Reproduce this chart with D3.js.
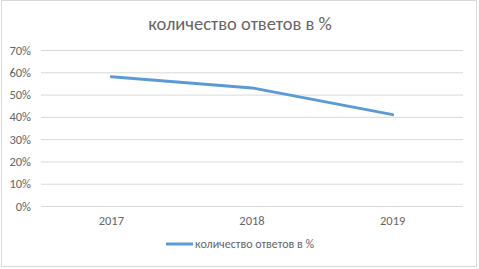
<!DOCTYPE html>
<html>
<head>
<meta charset="utf-8">
<script src="https://cdn.jsdelivr.net/npm/d3@7"></script>
<style>
  html, body { margin: 0; padding: 0; background: #fff; }
  text { font-family: Calibri, Carlito, "Liberation Sans", "Open Sans", sans-serif; }
</style>
</head>
<body>
<svg id="chart" width="479" height="269"></svg>
<script>
const years = ["2017", "2018", "2019"];
const answers = [58, 53, 41];
const yTicks = [0, 10, 20, 30, 40, 50, 60, 70];
const seriesName = "количество ответов в %";
const title = "количество ответов в %";

const width = 479;
const height = 269;
const margin = { top: 50, right: 16, bottom: 63, left: 41 };
const chartWidth = width - margin.left - margin.right;
const chartHeight = height - margin.top - margin.bottom;
const textColor = "#656565";
const lineColor = "#5b9bd5";

const svg = d3.select("#chart");

svg.append("rect")
  .attr("x", 1.5)
  .attr("y", 0.5)
  .attr("width", width - 4)
  .attr("height", height - 3)
  .attr("fill", "#fff")
  .attr("stroke", "#d9d9d9");

svg.append("text")
  .attr("x", 240)
  .attr("y", 30)
  .attr("text-anchor", "middle")
  .attr("fill", textColor)
  .attr("font-size", 18.5)
  .text(title);

const chart = svg.append("g")
  .attr("transform", `translate(${margin.left},${margin.top})`);

const x = d3.scaleBand()
  .domain(years)
  .range([0, chartWidth]);

const y = d3.scaleLinear()
  .domain([0, 70])
  .range([chartHeight, 0]);

// horizontal grid
chart.append("g")
  .attr("class", "grid")
  .call(d3.axisLeft(y).tickValues(yTicks).tickSize(-chartWidth).tickFormat(""))
  .call((g) => g.select(".domain").remove())
  .call((g) => g.selectAll(".tick line").attr("stroke", "#d9d9d9"));

const yAxisG = chart.append("g")
  .call(d3.axisLeft(y).tickValues(yTicks).tickFormat((d) => d + "%").tickSize(0).tickPadding(10));
yAxisG.select(".domain").remove();
yAxisG.selectAll("text")
  .attr("fill", textColor)
  .attr("font-size", 12.5);

const xAxisG = chart.append("g")
  .attr("transform", `translate(0,${chartHeight})`)
  .call(d3.axisBottom(x).tickSize(0).tickPadding(10));
xAxisG.select(".domain").remove();
xAxisG.selectAll("text")
  .attr("fill", textColor)
  .attr("font-size", 12.5);

const line = d3.line()
  .x((d, i) => x(years[i]) + x.bandwidth() / 2)
  .y((d) => y(d));

chart.append("path")
  .datum(answers)
  .attr("fill", "none")
  .attr("stroke", lineColor)
  .attr("stroke-width", 3)
  .attr("stroke-linecap", "round")
  .attr("stroke-linejoin", "round")
  .attr("d", line);

// legend
const legend = svg.append("g").attr("transform", "translate(166,248)");
legend.append("line")
  .attr("x1", 0)
  .attr("x2", 27)
  .attr("y1", -4)
  .attr("y2", -4)
  .attr("stroke", lineColor)
  .attr("stroke-width", 3);
legend.append("text")
  .attr("x", 29)
  .attr("y", 0)
  .attr("fill", textColor)
  .attr("font-size", 12)
  .text(seriesName);
</script>
</body>
</html>
